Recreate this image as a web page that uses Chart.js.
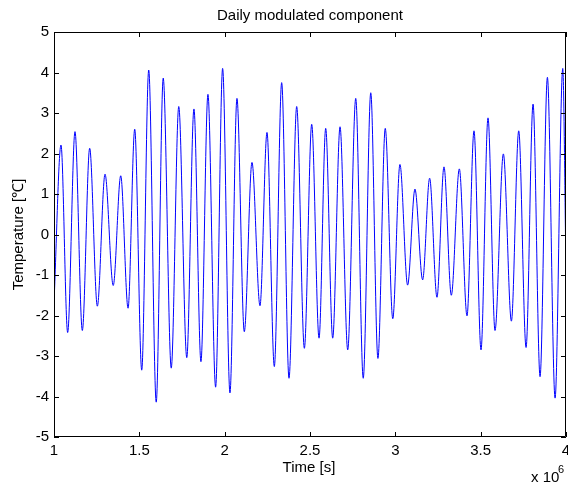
<!DOCTYPE html>
<html>
<head>
<meta charset="utf-8">
<script src="https://cdn.jsdelivr.net/npm/chart.js@4/dist/chart.umd.min.js"></script>
<style>
  html, body { margin: 0; padding: 0; background: #fff; }
  #wrap { width: 568px; height: 484px; position: relative; }
</style>
</head>
<body>
<div id="wrap"><canvas id="c"></canvas></div>
<script>
// Time in units of 10^6 s (peaks / troughs)
const times = [
  1.000, 1.041, 1.080, 1.123, 1.166, 1.209, 1.254, 1.299, 1.347, 1.391,
  1.434, 1.473, 1.514, 1.555, 1.599, 1.640, 1.687, 1.731, 1.778, 1.820,
  1.861, 1.902, 1.947, 1.988, 2.031, 2.072, 2.115, 2.160, 2.207, 2.248,
  2.291, 2.334, 2.377, 2.422, 2.467, 2.510, 2.553, 2.592, 2.633, 2.676,
  2.721, 2.768, 2.812, 2.856, 2.898, 2.941, 2.985, 3.027, 3.072, 3.115,
  3.160, 3.201, 3.244, 3.285, 3.328, 3.375, 3.420, 3.461, 3.502, 3.543,
  3.584, 3.633, 3.680, 3.723, 3.766, 3.807, 3.848, 3.891, 3.936, 3.981,
  4.000
];
// Temperature [°C]
const temps = [
  -1.70,  2.21, -2.42,  2.54, -2.37,  2.13, -1.77,  1.49, -1.26,  1.45,
  -1.82,  2.60, -3.35,  4.06, -4.14,  3.86, -3.30,  3.16, -3.04,  3.10,
  -3.14,  3.46, -3.77,  4.10, -3.91,  3.36, -2.40,  1.78, -1.76,  2.52,
  -3.26,  3.75, -3.55,  3.16, -2.81,  2.72, -2.56,  2.62, -2.56,  2.66,
  -2.85,  3.36, -3.55,  3.50, -3.06,  2.62, -2.08,  1.73, -1.25,  1.12,
  -1.12,  1.39, -1.55,  1.67, -1.50,  1.62, -2.01,  2.56, -2.85,  2.88,
  -2.37,  1.99, -2.14,  2.56, -2.79,  3.22, -3.51,  3.88, -4.04,  4.10,
  -0.90
];
const xTicks = [1, 1.5, 2, 2.5, 3, 3.5, 4];
const yTicks = [-5, -4, -3, -2, -1, 0, 1, 2, 3, 4, 5];

const FONT = 'Arial, "Liberation Sans", sans-serif';
const FS = 15;

// MATLAB-like box with inward ticks and the axis texts
const frame = {
  id: 'frame',
  afterDraw (chart) {
    const { ctx, chartArea: a, scales: { x, y } } = chart;
    const tl = 5;
    ctx.save();
    ctx.strokeStyle = '#000';
    ctx.lineWidth = 1;
    ctx.beginPath();
    ctx.rect(a.left + 0.5, a.top + 0.5, a.right - a.left - 1, a.bottom - a.top - 1);
    xTicks.forEach(v => {
      const px = Math.round(x.getPixelForValue(v)) + 0.5;
      ctx.moveTo(px, a.bottom); ctx.lineTo(px, a.bottom - tl);
      ctx.moveTo(px, a.top);    ctx.lineTo(px, a.top + tl);
    });
    yTicks.forEach(v => {
      const py = Math.round(y.getPixelForValue(v)) + 0.5;
      ctx.moveTo(a.left, py);  ctx.lineTo(a.left + tl, py);
      ctx.moveTo(a.right, py); ctx.lineTo(a.right - tl, py);
    });
    ctx.stroke();

    ctx.fillStyle = '#000';
    ctx.font = FS + 'px ' + FONT;
    ctx.textAlign = 'center';
    ctx.textBaseline = 'middle';
    const cx = (a.left + a.right) / 2;
    ctx.fillText('Daily modulated component', cx, 16);
    ctx.fillText('Time [s]', 309, 468);
    ctx.save();
    ctx.translate(19, (a.top + a.bottom) / 2);
    ctx.rotate(-Math.PI / 2);
    ctx.fillText('Temperature [\u2103]', 0, 0);
    ctx.restore();
    ctx.textAlign = 'left';
    ctx.fillText('x 10', 531, 478);
    ctx.font = '11px ' + FONT;
    ctx.fillText('6', 558, 470);
    ctx.restore();
  }
};

new Chart(document.getElementById('c'), {
  type: 'line',
  data: {
    datasets: [{
      data: times.map((t, i) => ({ x: t, y: temps[i] })),
      borderColor: '#0000ff',
      borderWidth: 1,
      pointRadius: 0,
      cubicInterpolationMode: 'monotone',
      fill: false
    }]
  },
  options: {
    responsive: true,
    maintainAspectRatio: false,
    animation: false,
    layout: { padding: { top: 32, right: 2, bottom: 0, left: 0 } },
    plugins: { legend: { display: false }, title: { display: false }, tooltip: { enabled: false } },
    scales: {
      x: {
        type: 'linear', min: 1, max: 4,
        afterBuildTicks: s => { s.ticks = xTicks.map(v => ({ value: v })); },
        afterFit: s => { s.height = 47; s.paddingLeft = 0; s.paddingRight = 0; },
        grid: { display: false, drawTicks: false },
        border: { display: false },
        ticks: { color: '#000', padding: 5, maxRotation: 0, callback: v => String(v),
                 font: { family: FONT, size: FS } }
      },
      y: {
        min: -5, max: 5,
        afterBuildTicks: s => { s.ticks = yTicks.map(v => ({ value: v })); },
        afterFit: s => { s.width = 54; s.paddingTop = 0; s.paddingBottom = 0; },
        grid: { display: false, drawTicks: false },
        border: { display: false },
        ticks: { color: '#000', padding: 5, callback: v => String(v),
                 font: { family: FONT, size: FS } }
      }
    }
  },
  plugins: [frame]
});
</script>
</body>
</html>
